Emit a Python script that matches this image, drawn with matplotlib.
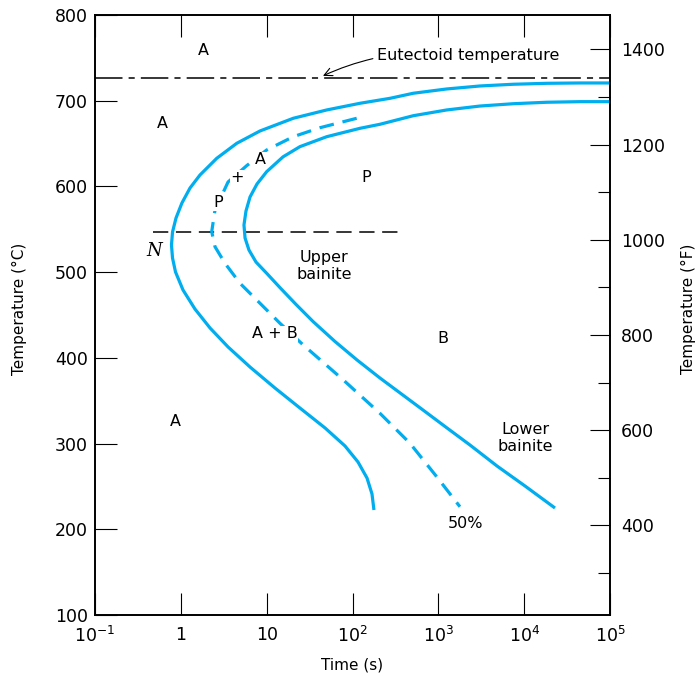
import numpy as np
import matplotlib
matplotlib.use('Agg')
import matplotlib.pyplot as plt

plt.rcParams['font.family'] = ['DejaVu Sans']
plt.rcParams['mathtext.default'] = 'regular'

# start curve (left solid), time in s, temperature in C
start_t = [100000, 44770, 18280, 7464, 3055, 1250, 510.5, 273.5, 122.2, 50.0, 20.4,
           8.36, 4.48, 2.62, 1.67, 1.28, 1.03, 0.879, 0.80, 0.778, 0.80, 0.867, 1.06,
           1.46, 2.19, 3.55, 6.40, 12.5, 24.4, 47.9, 81.8, 115.9, 147.6, 168.7, 177.8]
start_T = [720.7, 720.7, 720.3, 719.2, 717.2, 713.7, 708.7, 702.8, 697, 689.2, 679.5,
           664.7, 650.3, 632.8, 613.3, 598.2, 580.7, 563.2, 546.8, 531.7, 516.5, 500.2, 479.2,
           457, 434.8, 412.7, 389.3, 364.8, 341.5, 318.2, 297.2, 278.5, 259.8, 241.2, 222.5]

# finish curve (right solid)
finish_t = [100000, 44770, 18280, 7464, 3055, 1250, 510.5, 208.9, 122.2, 50.0, 24.4,
            15.5, 10.0, 7.71, 6.40, 5.74, 5.44, 5.60, 6.22, 7.51, 10.0, 14.3, 22.0, 34.7,
            62.5, 113, 208.9, 662, 1262, 2339, 4830, 10230, 22860]
finish_T = [698.9, 698.9, 698.2, 696.5, 693.8, 689.2, 682.5, 672.5, 667.8, 658, 646.4,
            634.5, 617.2, 602.8, 587.7, 571.3, 555, 539.8, 525.8, 511.8, 498.7, 481.9, 462.3,
            442.4, 419.1, 397.5, 376.5, 339.2, 318.2, 298.3, 273.8, 250.5, 224.8]

# 50% curve (dashed)
half_t = [111.9, 41.8, 20.4, 10.0, 5.85, 3.55, 2.50, 2.29, 2.50, 3.27, 4.89, 7.66,
          14.3, 26.7, 78.2, 208.9, 467.7, 957, 1786]
half_T = [679.5, 668.5, 658, 642.5, 624.2, 605.2, 572.5, 547.2, 529.7, 510.3, 487,
          467.5, 440.3, 415, 374.2, 335.3, 300.3, 261.3, 226.3]

eutectoid_T = 727
nose_T = 547
nose_line_t = [0.474, 388]

xticks = [0.1, 1, 10, 100, 1000, 10000, 100000]
xticklabels = ['$10^{-1}$', '1', '10', '$10^2$', '$10^3$', '$10^4$', '$10^5$']
yticks = [100, 200, 300, 400, 500, 600, 700, 800]
f_major = [400, 600, 800, 1000, 1200, 1400]
f_minor = [300, 500, 700, 900, 1100, 1300]

# region labels: (text, t, T)
labels = [
    ('A', 1.81, 759), ('A', 0.604, 673), ('P', 143.6, 611),
    ('Upper\nbainite', 46.6, 507), ('B', 1132, 423), ('A', 0.855, 326),
    ('Lower\nbainite', 10420, 306.5), ('50%', 2046, 207),
]
# labels that sit on the dashed curve (white background)
gap_labels = [('A', 8.5, 631), ('+', 4.51, 610), ('P', 2.71, 581), ('A + B', 12.5, 428)]

blue = '#00AEEF'

fig = plt.figure(figsize=(6.97, 6.76), dpi=100)
ax = fig.add_axes([95/697, 1-615/676, 515/697, 600/676])

ax.plot([0.1, 100000], [eutectoid_T, eutectoid_T], color='black', lw=1.1,
        dashes=(18, 4, 4, 4), zorder=2)
ax.plot(nose_line_t, [nose_T, nose_T], color='black', lw=1.1, dashes=(10, 5), zorder=2)

ax.plot(start_t, start_T, color=blue, lw=2.3, zorder=3, solid_capstyle='butt',
        solid_joinstyle='round')
ax.plot(finish_t, finish_T, color=blue, lw=2.3, zorder=3, solid_capstyle='butt',
        solid_joinstyle='round')
ax.plot(half_t, half_T, color=blue, lw=2.3, dashes=(4.6, 2.8), zorder=3)

for s, t, T in labels:
    ax.text(t, T, s, ha='center', va='center', fontsize=11.5, linespacing=1.15, zorder=5)
for s, t, T in gap_labels:
    ax.text(t, T, s, ha='center', va='center', fontsize=11.5, zorder=5,
            bbox=dict(facecolor='white', edgecolor='none', pad=0.5))
ax.text(0.487, 525, 'N', ha='center', va='center', fontsize=13,
        family='DejaVu Serif', style='italic', zorder=5)

ax.annotate('Eutectoid temperature', xy=(45.3, 729), xytext=(193, 753),
            ha='left', va='center', fontsize=11.5, zorder=5,
            arrowprops=dict(arrowstyle='->,head_length=0.5,head_width=0.25',
                            color='black', lw=0.8, shrinkA=1, shrinkB=0,
                            connectionstyle='arc3,rad=0.15'))

ax.set_xscale('log')
ax.set_xlim(0.1, 100000)
ax.set_ylim(100, 800)
ax.set_xticks(xticks)
ax.set_xticklabels(xticklabels)
ax.minorticks_off()
ax.set_yticks(yticks)
ax.tick_params(axis='both', direction='in', length=15.5, width=0.8, labelsize=12.5,
               top=True, right=False)
ax.tick_params(axis='x', pad=8)
ax.tick_params(axis='y', pad=5)
for sp in ax.spines.values():
    sp.set_linewidth(1.2)

ax.set_xlabel('Time (s)', fontsize=11)
ax.xaxis.set_label_coords(0.5, -0.07)
ax.set_ylabel('Temperature (°C)', fontsize=11)
ax.yaxis.set_label_coords(-0.132, 0.51)

ax2 = ax.twinx()
ax2.set_ylim(100*9/5+32, 800*9/5+32)
ax2.set_yticks(f_major)
ax2.set_yticks(f_minor, minor=True)
ax2.tick_params(axis='y', which='major', direction='in', length=14.5, width=0.8,
                labelsize=12.5, pad=8)
ax2.tick_params(axis='y', which='minor', direction='in', length=8.6, width=0.8)
ax2.set_ylabel('Temperature (°F)', fontsize=11)
ax2.yaxis.set_label_coords(1.138, 0.51)
for sp in ax2.spines.values():
    sp.set_linewidth(1.2)

fig.savefig('out.png', dpi=100)
